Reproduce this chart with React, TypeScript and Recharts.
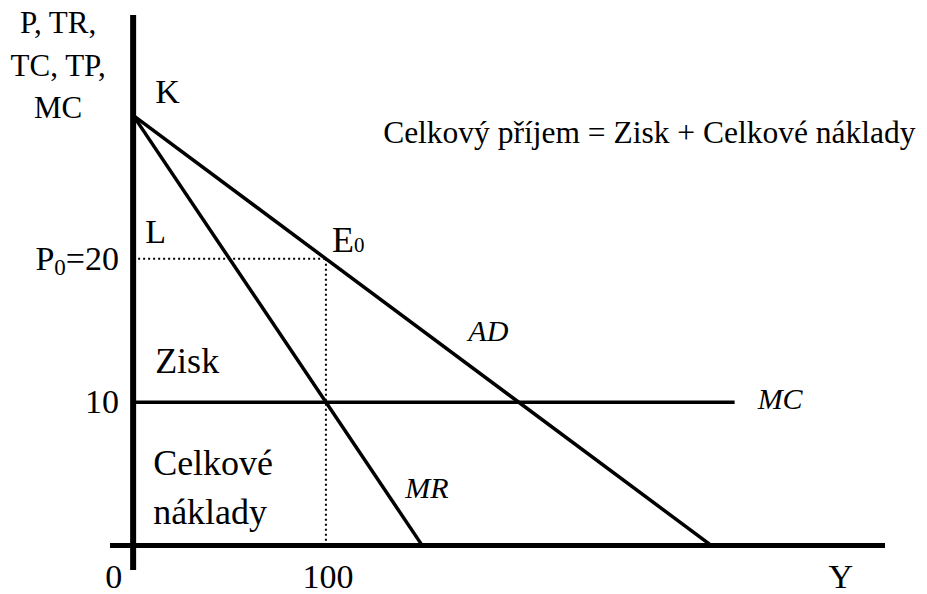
import React from "react";
import {
  ComposedChart,
  Line,
  XAxis,
  YAxis,
  ReferenceLine,
  ReferenceDot,
} from "recharts";

// curves of the monopoly diagram (q = output, p = price)
const adPoints = [
  { q: 0, p: 30 },
  { q: 300, p: 0 },
];
const mrPoints = [
  { q: 0, p: 30 },
  { q: 150, p: 0 },
];
const mcPoints = [
  { q: 0, p: 10 },
  { q: 312, p: 10 },
];
const priceGuide = [
  { q: 0, p: 20 },
  { q: 100, p: 20 },
];
const outputGuide = [
  { q: 100, p: 20 },
  { q: 100, p: 0 },
];

const xTicks = [0, 100, 366];
const xTickLabels = ["0", "100", "Y"];
const yTicks = [10, 20];
const yAxisTitle = ["P, TR,", "TC, TP,", "MC"];
const equation = "Celkový příjem = Zisk + Celkové náklady";

const FONT = "Liberation Serif";

const XTick = (props: any) => {
  const { x, y, payload, index } = props;
  const first = payload.value === 0;
  return (
    <text
      x={first ? x - 11 : x + 2}
      y={y + 18}
      textAnchor={first ? "end" : "middle"}
      fontFamily={FONT}
      fontSize={34}
      fill="#000"
    >
      {xTickLabels[index]}
    </text>
  );
};

const YTick = (props: any) => {
  const { x, y, payload } = props;
  return (
    <text x={x + 9} y={y + 11} textAnchor="end" fontFamily={FONT} fontSize={34} fill="#000">
      {payload.value === 20 ? (
        <>
          P<tspan fontSize={23} dy={5}>0</tspan>
          <tspan dy={-5}>=20</tspan>
        </>
      ) : (
        String(payload.value)
      )}
    </text>
  );
};

// text placed relative to a reference dot, offset in pixels
const Note = (props: any) => {
  const { viewBox, text, dx = 0, dy = 0, size = 34, italic = false } = props;
  const vb = viewBox || {};
  return (
    <text
      x={(vb.x || 0) + (vb.width || 0) / 2 + dx}
      y={(vb.y || 0) + (vb.height || 0) / 2 + dy}
      fontFamily={FONT}
      fontSize={size}
      fontStyle={italic ? "italic" : "normal"}
      fill="#000"
    >
      {text}
    </text>
  );
};

const AxisTitle = (props: any) => {
  const vb = props.viewBox || {};
  return (
    <text fontFamily={FONT} fontSize={31} fill="#000" textAnchor="middle">
      {yAxisTitle.map((t, i) => (
        <tspan key={t} x={vb.x - 75} y={vb.y - 82 + i * 42.5}>
          {t}
        </tspan>
      ))}
    </text>
  );
};

export default function App() {
  return (
    <div style={{ position: "absolute", left: 0, top: 0, background: "#fff" }}>
      <ComposedChart
        width={927}
        height={594}
        margin={{ top: 15, right: 42, left: 0, bottom: 0 }}
      >
        <XAxis
          type="number"
          dataKey="q"
          domain={[-12, 390]}
          allowDataOverflow
          ticks={xTicks}
          axisLine={false}
          tickLine={false}
          tickSize={0}
          tickMargin={0}
          height={24}
          tick={<XTick />}
          interval={0}
        />
        <YAxis
          type="number"
          dataKey="p"
          domain={[-1.7, 37]}
          allowDataOverflow
          ticks={yTicks}
          axisLine={false}
          tickLine={false}
          tickSize={0}
          tickMargin={0}
          width={110}
          tick={<YTick />}
          interval={0}
        />

        {/* axes */}
        <ReferenceLine x={0} stroke="#000" strokeWidth={6} />
        <ReferenceLine y={0} stroke="#000" strokeWidth={5} />

        {/* dotted guides */}
        <Line data={priceGuide} dataKey="p" stroke="#000" strokeWidth={2} strokeDasharray="2 3" dot={false} activeDot={false} isAnimationActive={false} />
        <Line data={outputGuide} dataKey="p" stroke="#000" strokeWidth={2} strokeDasharray="2 3" dot={false} activeDot={false} isAnimationActive={false} />

        <Line data={adPoints} dataKey="p" stroke="#000" strokeWidth={3.5} dot={false} activeDot={false} isAnimationActive={false} />
        <Line data={mrPoints} dataKey="p" stroke="#000" strokeWidth={3.5} dot={false} activeDot={false} isAnimationActive={false} />
        <Line data={mcPoints} dataKey="p" stroke="#000" strokeWidth={3.5} dot={false} activeDot={false} isAnimationActive={false} />

        {/* labels anchored to points of the diagram */}
        <ReferenceDot x={0} y={30} r={0} stroke="none" label={<Note text="K" dx={22} dy={-12} />} />
        <ReferenceDot x={0} y={30} r={0} stroke="none" label={<Note text={equation} dx={250} dy={28} size={31.5} />} />
        <ReferenceDot x={0} y={30} r={0} stroke="none" label={<AxisTitle />} />
        <ReferenceDot x={0} y={20} r={0} stroke="none" label={<Note text="L" dx={12} dy={-16} />} />
        <ReferenceDot
          x={100}
          y={20}
          r={0}
          stroke="none"
          label={
            <Note
              text={
                <>
                  E<tspan fontSize={21}>0</tspan>
                </>
              }
              dx={6}
              dy={-7}
              size={36}
            />
          }
        />
        <ReferenceDot x={0} y={10} r={0} stroke="none" label={<Note text="Zisk" dx={22} dy={-29} size={36} />} />
        <ReferenceDot x={0} y={10} r={0} stroke="none" label={<Note text="Celkové" dx={20} dy={73} size={36} />} />
        <ReferenceDot x={0} y={10} r={0} stroke="none" label={<Note text="náklady" dx={20} dy={122} size={36} />} />
        <ReferenceDot x={150} y={15} r={0} stroke="none" label={<Note text="AD" dx={46} dy={10} size={30} italic />} />
        <ReferenceDot x={150} y={0} r={0} stroke="none" label={<Note text="MR" dx={-17} dy={-48} size={30} italic />} />
        <ReferenceDot x={312} y={10} r={0} stroke="none" label={<Note text="MC" dx={23} dy={7} size={30} italic />} />
      </ComposedChart>
    </div>
  );
}
